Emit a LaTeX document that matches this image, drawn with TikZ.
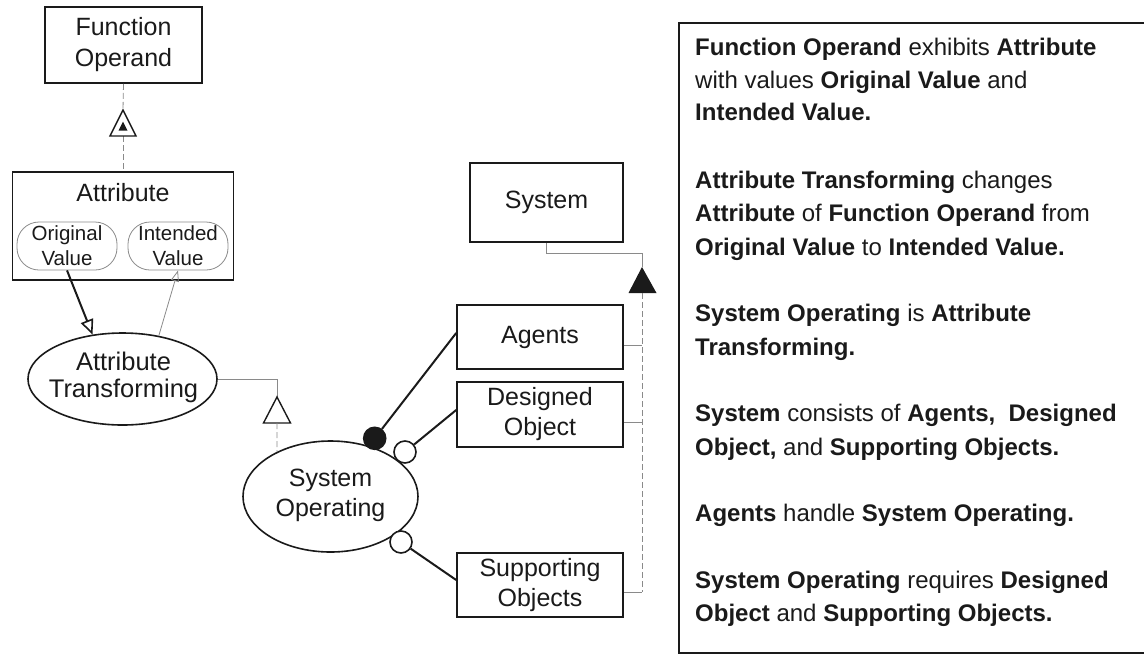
\documentclass[tikz,border=0pt]{standalone}
\usepackage{fontspec}
\setmainfont{Liberation Sans}
\usetikzlibrary{shapes.geometric,arrows.meta}
\definecolor{ink}{HTML}{1A1A1A}
\definecolor{linkgray}{HTML}{8A8A8A}
\begin{document}
\begin{tikzpicture}[x=1pt,y=-1pt,
  thing/.style={draw=ink, line width=1.6pt, rectangle, inner sep=0pt,
    font=\fontsize{25}{30}\selectfont, align=center, text=ink},
  valuebox/.style={draw=linkgray, line width=0.8pt, rounded corners=22pt,
    inner sep=0pt, minimum width=100pt, minimum height=48pt,
    font=\fontsize{20.5}{25}\selectfont, align=center, text=ink},
  proc/.style={draw=ink, line width=1.6pt, ellipse, inner sep=0pt},
  txt/.style={font=\fontsize{25}{30}\selectfont, align=center, text=ink, inner sep=0pt},
  thinlink/.style={draw=linkgray, line width=0.8pt},
  dashlink/.style={draw=linkgray, line width=0.8pt, dash pattern=on 6pt off 3pt},
  boldlink/.style={draw=ink, line width=2pt},
  handle/.style={circle, draw=ink, line width=1.6pt, minimum size=22pt, inner sep=0pt},
  para/.style={anchor=base west, inner sep=0pt, font=\fontsize{24}{33}\selectfont, text=ink},
]
\useasboundingbox (0,0) rectangle (1144,657);

% ---------- objects ----------
\node[thing, minimum width=157pt, minimum height=76pt] (fo) at (123.5,45) {Function\\[1pt]Operand};
\node[thing, minimum width=221pt, minimum height=108pt] (attr) at (123,226) {};
\node[txt] (attrname) at (123,193) {Attribute};
\node[valuebox] (orig) at (67,246) {Original\\Value};
\node[valuebox] (intd) at (178,246) {Intended\\Value};

\node[thing, minimum width=153pt, minimum height=79pt] (sys) at (546.5,202.5) {System};
\node[thing, minimum width=166pt, minimum height=64pt] (ag) at (540,337) {Agents};
\node[thing, minimum width=166pt, minimum height=65pt] (dob) at (540,414.5) {Designed\\Object};
\node[thing, minimum width=166pt, minimum height=64pt] (sob) at (540,585) {Supporting\\Objects};

% ---------- processes ----------
\node[proc, minimum width=189pt, minimum height=92pt] (at) at (122.5,379) {};
\node[txt, font=\fontsize{25.5}{27}\selectfont] (atname) at (123.5,377) {Attribute\\Transforming};
\node[proc, minimum width=175pt, minimum height=111pt] (so) at (330.5,496.5) {};
\node[txt] (soname) at (330.5,495.5) {System\\Operating};

% ---------- exhibition: Function Operand -> Attribute ----------
\coordinate (exA) at (123,110);
\coordinate (exB) at (123,136);
\draw[dashlink] (fo.south) -- (exA);
\draw[dashlink] (exB) -- (attr.north);
\draw[draw=ink, line width=1.4pt] (exA) -- (110,136) -- (136,136) -- cycle;
\fill[ink] (123,121.5) -- (118.5,130.5) -- (127.5,130.5) -- cycle;

% ---------- consumption and result links ----------
\draw[boldlink, -{Triangle[open, length=15pt, width=13pt, line width=1.6pt]}] (orig.south) -- (at.124);
\draw[thinlink, -{Triangle[open, length=11pt, width=8pt]}] (at.50) -- (intd.south);

% ---------- generalization: Attribute Transforming -> System Operating ----------
\coordinate (gA) at (277,397);
\coordinate (gB) at (277,423);
\draw[thinlink] (at.east) -- (gA |- at.east) -- (gA);
\draw[draw=ink, line width=1.4pt] (gA) -- (263.5,423) -- (290.5,423) -- cycle;
\draw[dashlink] (gB) -- (so.140.6);

% ---------- aggregation: System -> parts ----------
\coordinate (sysTurn) at (546.5,253);
\coordinate (agA) at (642,267);
\coordinate (agB) at (642,293);
\coordinate (agEnd) at (642,592);
\draw[thinlink] (sys.south) -- (sysTurn) -- (sysTurn -| agA) -- (agA);
\fill[ink] (agA) -- (628.5,293) -- (656.5,293) -- cycle;
\draw[dashlink] (agB) -- (agEnd);
\coordinate (agT) at ([yshift=-8pt]ag.east);
\coordinate (doT) at ([yshift=-7.5pt]dob.east);
\coordinate (soT) at ([yshift=-7pt]sob.east);
\draw[thinlink] (agT) -- (agT -| agB);
\draw[thinlink] (doT) -- (doT -| agB);
\draw[thinlink] (soT) -- (soT -| agB);

% ---------- agent and instrument links ----------
\node[handle, fill=ink] (agc) at (374.7,438.3) {};
\node[handle, fill=white] (doc) at (405,452) {};
\node[handle, fill=white] (soc) at (401,542) {};
\draw[boldlink] (agc) -- ([yshift=4pt]ag.west);
\draw[boldlink] (doc) -- ([yshift=4.5pt]dob.west);
\draw[boldlink] (soc) -- ([yshift=5pt]sob.west);

% ---------- description panel ----------
\coordinate (pTL) at (679,23);
\coordinate (pBL) at (679,653);
\draw[draw=ink, line width=1.5pt] (1146,23) -- (pTL) -- (pBL) -- (1146,653);
\node[para] (t1) at (695,55.5) {\textbf{Function Operand} exhibits \textbf{Attribute}};
\node[para] (t2) at (695,88.5) {with values \textbf{Original Value} and};
\node[para] (t3) at (695,120.5) {\textbf{Intended Value.}};
\node[para] (t4) at (695,188.5) {\textbf{Attribute Transforming} changes};
\node[para] (t5) at (695,221.5) {\textbf{Attribute} of \textbf{Function Operand} from};
\node[para] (t6) at (695,255.5) {\textbf{Original Value} to \textbf{Intended Value.}};
\node[para] (t7) at (695,321.5) {\textbf{System Operating} is \textbf{Attribute}};
\node[para] (t8) at (695,355.5) {\textbf{Transforming.}};
\node[para] (t9) at (695,421.5) {\textbf{System} consists of \textbf{Agents,\ \ Designed}};
\node[para] (t10) at (695,455.5) {\textbf{Object,} and \textbf{Supporting Objects.}};
\node[para] (t11) at (695,521.5) {\textbf{Agents} handle \textbf{System Operating.}};
\node[para] (t12) at (695,588.5) {\textbf{System Operating} requires \textbf{Designed}};
\node[para] (t13) at (695,621.5) {\textbf{Object} and \textbf{Supporting Objects.}};
\end{tikzpicture}
\end{document}
